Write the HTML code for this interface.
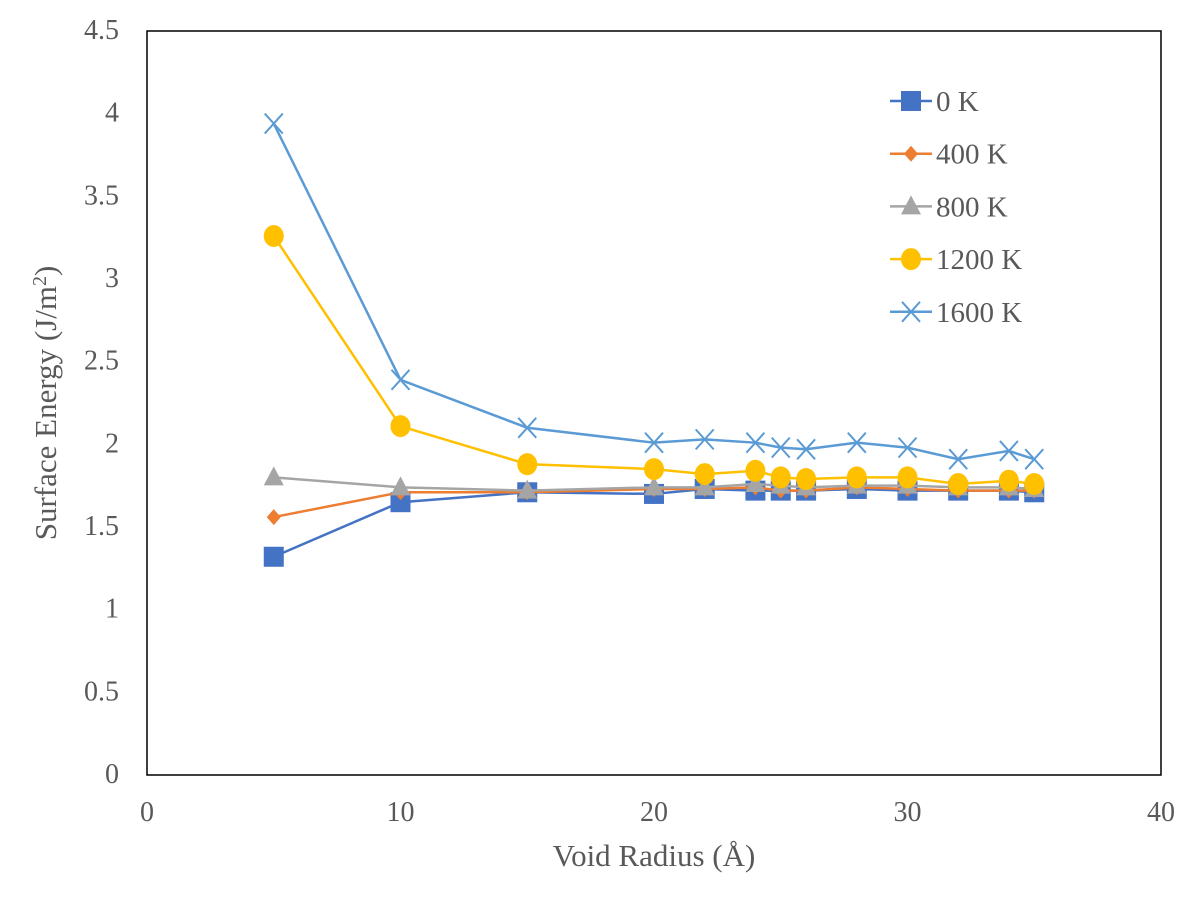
<!DOCTYPE html>
<html><head><meta charset="utf-8"><style>body{margin:0;background:#fff}svg text{font-family:"Liberation Serif",serif;fill:#595959}</style></head>
<body>
<svg id="c" width="1200" height="899" xmlns="http://www.w3.org/2000/svg"></svg>
<script>
const xValues=[5,10,15,20,22,24,25,26,28,30,32,34,35];
const s0=[1.32,1.65,1.71,1.70,1.73,1.72,1.72,1.72,1.73,1.72,1.72,1.72,1.71];
const s400=[1.56,1.71,1.71,1.73,1.73,1.74,1.72,1.72,1.74,1.73,1.72,1.72,1.72];
const s800=[1.80,1.74,1.72,1.74,1.74,1.76,1.75,1.74,1.75,1.75,1.74,1.74,1.73];
const s1200=[3.26,2.11,1.88,1.85,1.82,1.84,1.80,1.79,1.80,1.80,1.76,1.78,1.76];
const s1600=[3.94,2.39,2.10,2.01,2.03,2.01,1.98,1.97,2.01,1.98,1.91,1.96,1.91];
const seriesNames=["0 K","400 K","800 K","1200 K","1600 K"];
const yTicks=["0","0.5","1","1.5","2","2.5","3","3.5","4","4.5"];
const xTicks=["0","10","20","30","40"];
const svg=document.getElementById('c');const NS="http://www.w3.org/2000/svg";
const L=147,R=1161,T=31,B=775;
const X=v=>L+(R-L)*v/40, Y=v=>B-(B-T)*v/4.5;
function el(t,a,p){const e=document.createElementNS(NS,t);for(const k in a)e.setAttribute(k,a[k]);(p||svg).appendChild(e);return e;}
const frame=el('rect',{x:L,y:T,width:R-L,height:B-T,fill:'none',stroke:'#000','stroke-width':1.5});


yTicks.forEach((t,i)=>{const e=el('text',{x:L-28,y:Y(i*0.5)+8,'font-size':28,'text-anchor':'end'});e.textContent=t;

});
xTicks.forEach((t,i)=>{const e=el('text',{x:X(i*10),y:B+46,'font-size':28,'text-anchor':'middle'});e.textContent=t;

});
const xt=el('text',{x:654,y:866,'font-size':31,'text-anchor':'middle'});xt.textContent='Void Radius (Å)';


const yt=el('text',{transform:'translate(56,403) rotate(-90)','font-size':31,'text-anchor':'middle'});yt.innerHTML='Surface Energy (J/m<tspan dy="-10" font-size="20">2</tspan><tspan dy="10">)</tspan>';


const data=[s0,s400,s800,s1200,s1600];
const colors=['#4472C4','#ED7D31','#A5A5A5','#FFC000','#5B9BD5'];
const markers=['square','diamond','triangle','circle','x'];
function marker(g,type,x,y,c){
 if(type==='square')el('rect',{x:x-10,y:y-10,width:20,height:20,fill:c},g);
 else if(type==='diamond')el('polygon',{points:`${x},${y-8} ${x+7},${y} ${x},${y+8} ${x-7},${y}`,fill:c},g);
 else if(type==='triangle')el('polygon',{points:`${x},${y-11} ${x+10},${y+8} ${x-10},${y+8}`,fill:c},g);
 else if(type==='circle')el('ellipse',{cx:x,cy:y,rx:10,ry:11,fill:c},g);
 else el('path',{d:`M${x-9},${y-10}L${x+9},${y+10}M${x+9},${y-10}L${x-9},${y+10}`,stroke:c,'stroke-width':2,fill:'none'},g);
}
data.forEach((s,i)=>{
 const g=el('g',{});
 
 
 el('polyline',{points:s.map((v,j)=>X(xValues[j])+','+Y(v)).join(' '),fill:'none',stroke:colors[i],'stroke-width':2.5},g);
 s.forEach((v,j)=>marker(g,markers[i],X(xValues[j]),Y(v),colors[i]));
 const lg=el('g',{});
 
 
 const ly=101+i*52.7;
 el('line',{x1:890,x2:932,y1:ly,y2:ly,stroke:colors[i],'stroke-width':2.5},lg);
 marker(lg,markers[i],911,ly,colors[i]);
 const t=el('text',{x:936,y:ly+10,'font-size':29},lg);t.textContent=seriesNames[i];
});
</script>
</body></html>
